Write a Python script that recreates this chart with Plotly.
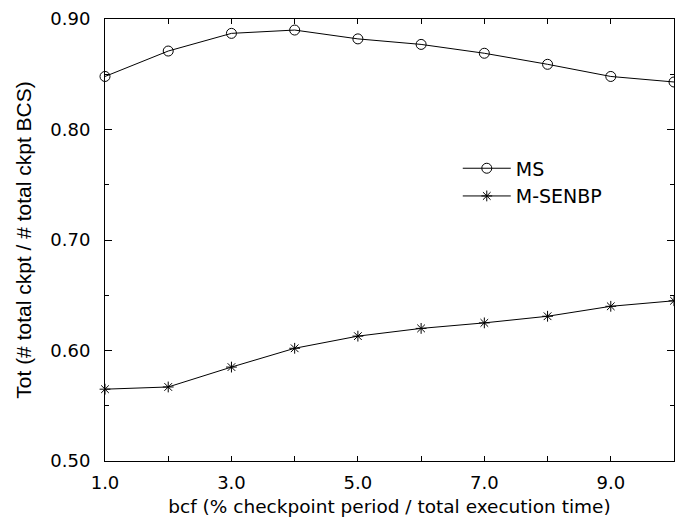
import plotly.graph_objects as go

bcf = [1, 2, 3, 4, 5, 6, 7, 8, 9, 10]
ms = [0.848, 0.871, 0.887, 0.890, 0.882, 0.877, 0.869, 0.859, 0.848, 0.843]
msenbp = [0.565, 0.567, 0.585, 0.602, 0.613, 0.620, 0.625, 0.631, 0.640, 0.645]
x_tickvals = [1, 2, 3, 4, 5, 6, 7, 8, 9, 10]
x_ticktext = ["1.0", "", "3.0", "", "5.0", "", "7.0", "", "9.0", ""]
y_tickvals = [0.5, 0.6, 0.7, 0.8, 0.9]
y_ticktext = ["0.50", "0.60", "0.70", "0.80", "0.90"]

wide = "DejaVu Sans, Verdana, sans-serif"
narrow = "Liberation Sans Narrow, Arial Narrow, Liberation Sans, Arial, sans-serif"

fig = go.Figure()
fig.add_trace(go.Scatter(
    x=bcf, y=ms, name="MS", mode="lines+markers",
    line=dict(color="black", width=1),
    marker=dict(symbol="circle-open", size=10, color="black", line=dict(width=1)),
    cliponaxis=False,
))
fig.add_trace(go.Scatter(
    x=bcf, y=msenbp, name="M-SENBP", mode="lines+markers",
    line=dict(color="black", width=1),
    marker=dict(symbol="asterisk-open", size=9, color="black", line=dict(width=1)),
    cliponaxis=False,
))

fig.update_xaxes(
    range=[1, 10], tickmode="array", tickvals=x_tickvals, ticktext=x_ticktext,
    showgrid=False, zeroline=False, showline=True, linecolor="black", linewidth=1,
    mirror="ticks", ticks="inside", ticklen=5, tickcolor="black",
    tickfont=dict(family=wide, size=18, color="black"), ticklabelstandoff=5,
    title=dict(text="bcf (% checkpoint period / total execution time)",
               font=dict(family=wide, size=18.5, color="black"), standoff=8),
)
fig.update_yaxes(
    range=[0.5, 0.9], tickmode="array", tickvals=y_tickvals, ticktext=y_ticktext,
    showgrid=False, zeroline=False, showline=True, linecolor="black", linewidth=1,
    mirror="ticks", ticks="inside", ticklen=7, tickcolor="black",
    tickfont=dict(family=wide, size=18, color="black"), ticklabelstandoff=10,
    minor=dict(ticks="inside", ticklen=4, tickcolor="black", dtick=0.05, tick0=0.5, showgrid=False),
    title=dict(text="Tot (# total ckpt / # total ckpt BCS)",
               font=dict(family=narrow, size=21, color="black"), standoff=12),
)

fig.update_layout(
    width=675, height=523,
    margin=dict(l=105, r=1, t=19, b=62),
    paper_bgcolor="white", plot_bgcolor="white",
    font=dict(family=wide, size=18, color="black"),
    showlegend=True,
    legend=dict(x=0.62, y=0.705, xanchor="left", yanchor="top",
                bgcolor="rgba(0,0,0,0)", font=dict(family=wide, size=19),
                itemwidth=48, tracegroupgap=0),
)

fig.write_html("out.html")
